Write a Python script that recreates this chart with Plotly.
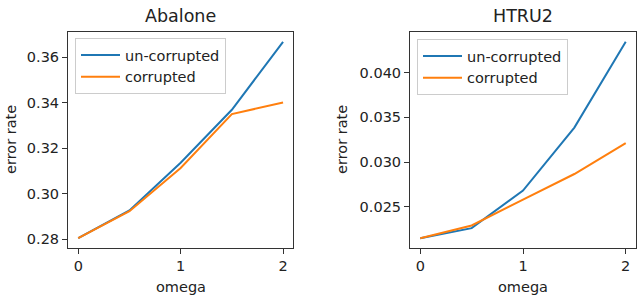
import plotly.graph_objects as go

omega = [0, 0.5, 1.0, 1.5, 2.0]
abalone_uncorrupted = [0.2804, 0.2926, 0.3136, 0.3369, 0.3668]
abalone_corrupted = [0.2804, 0.2923, 0.3113, 0.3350, 0.3401]
htru2_uncorrupted = [0.0215, 0.02262, 0.02682, 0.03386, 0.04344]
htru2_corrupted = [0.0215, 0.02292, 0.02581, 0.02867, 0.03213]

abalone_yticks = [0.28, 0.30, 0.32, 0.34, 0.36]
htru2_yticks = [0.025, 0.030, 0.035, 0.040]
x_ticks = [0, 1, 2]

BLUE = "#1f77b4"
ORANGE = "#ff7f0e"
FONT = "DejaVu Sans"
W, H = 640, 302

def px(x):
    return x / W

def py(y):
    return (H - y) / H

fig = go.Figure()
fig.add_trace(go.Scatter(x=omega, y=abalone_uncorrupted, mode="lines", name="un-corrupted",
                         line=dict(color=BLUE, width=2), xaxis="x", yaxis="y", legend="legend"))
fig.add_trace(go.Scatter(x=omega, y=abalone_corrupted, mode="lines", name="corrupted",
                         line=dict(color=ORANGE, width=2), xaxis="x", yaxis="y", legend="legend"))
fig.add_trace(go.Scatter(x=omega, y=htru2_uncorrupted, mode="lines", name="un-corrupted",
                         line=dict(color=BLUE, width=2), xaxis="x2", yaxis="y2", legend="legend2"))
fig.add_trace(go.Scatter(x=omega, y=htru2_corrupted, mode="lines", name="corrupted",
                         line=dict(color=ORANGE, width=2), xaxis="x2", yaxis="y2", legend="legend2"))

def pad(vals):
    lo, hi = min(vals), max(vals)
    m = (hi - lo) * 0.05
    return [lo - m, hi + m]

ab_all = abalone_uncorrupted + abalone_corrupted
ht_all = htru2_uncorrupted + htru2_corrupted

axis_common = dict(showgrid=False, zeroline=False, showline=True, linecolor="#333333", linewidth=1,
                   mirror=True, ticks="outside", ticklen=5, tickwidth=1, tickcolor="#333333",
                   tickfont=dict(family=FONT, size=14.5, color="#222222"))

legend_common = dict(xanchor="left", yanchor="top", bgcolor="rgba(255,255,255,0.8)",
                     bordercolor="#cccccc", borderwidth=1, itemwidth=39,
                     font=dict(family=FONT, size=14.5, color="#222222"), tracegroupgap=0)

fig.update_layout(
    width=W, height=H,
    margin=dict(l=0, r=0, t=0, b=0),
    paper_bgcolor="white", plot_bgcolor="white",
    font=dict(family=FONT, size=14.5, color="#222222"),
    xaxis=dict(domain=[px(68), px(293.3)], range=[-0.1, 2.1], tickvals=x_ticks,
               anchor="y", **axis_common),
    yaxis=dict(domain=[py(248), py(32)], range=pad(ab_all), tickvals=abalone_yticks,
               tickformat=".2f", anchor="x", **axis_common),
    xaxis2=dict(domain=[px(410), px(636)], range=[-0.1, 2.1], tickvals=x_ticks,
                anchor="y2", **axis_common),
    yaxis2=dict(domain=[py(248), py(32)], range=pad(ht_all), tickvals=htru2_yticks,
                tickformat=".3f", anchor="x2", **axis_common),
    legend=dict(x=px(75), y=py(38), **legend_common),
    legend2=dict(x=px(417), y=py(39), **legend_common),
    annotations=[
        dict(text="Abalone", x=px(180.6), y=py(16), xref="paper", yref="paper", showarrow=False,
             font=dict(family=FONT, size=17.5, color="#222222"), xanchor="center", yanchor="middle"),
        dict(text="HTRU2", x=px(523), y=py(16), xref="paper", yref="paper", showarrow=False,
             font=dict(family=FONT, size=17.5, color="#222222"), xanchor="center", yanchor="middle"),
        dict(text="omega", x=px(180.6), y=py(287), xref="paper", yref="paper", showarrow=False,
             font=dict(family=FONT, size=14.5, color="#222222"), xanchor="center", yanchor="middle"),
        dict(text="omega", x=px(523), y=py(287), xref="paper", yref="paper", showarrow=False,
             font=dict(family=FONT, size=14.5, color="#222222"), xanchor="center", yanchor="middle"),
        dict(text="error rate", x=px(11), y=py(140), xref="paper", yref="paper", showarrow=False,
             textangle=-90, font=dict(family=FONT, size=14.5, color="#222222"),
             xanchor="center", yanchor="middle"),
        dict(text="error rate", x=px(342), y=py(140), xref="paper", yref="paper", showarrow=False,
             textangle=-90, font=dict(family=FONT, size=14.5, color="#222222"),
             xanchor="center", yanchor="middle"),
    ],
)

fig.write_html("out.html", config={"displayModeBar": False},
               post_script="document.body.style.margin='0';")
